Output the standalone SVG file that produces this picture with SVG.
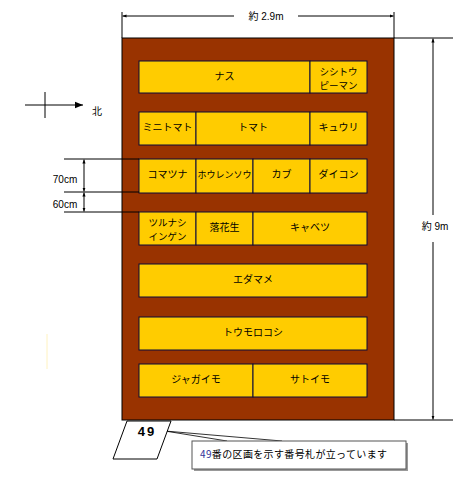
<svg xmlns="http://www.w3.org/2000/svg" width="465" height="490" viewBox="0 0 465 490">
<defs>
<style>
.bed{fill:#FFCC00;stroke:#0a0a3a;stroke-width:1}
.bt{font-family:"Noto Sans CJK JP","Noto Sans",sans-serif;font-size:10px;fill:#000;text-anchor:middle}
.bt2{font-size:9.5px}
.dim{stroke:#000;stroke-width:1;fill:none}
.lbl{font-family:"Liberation Sans","Noto Sans CJK JP",sans-serif;font-size:10px;fill:#000}
</style>
<marker id="ah" viewBox="0 0 10 10" refX="10" refY="5" markerWidth="4" markerHeight="4" orient="auto-start-reverse"><path d="M0,1 L10,5 L0,9 z" fill="#000"/></marker>
<marker id="ab" viewBox="0 0 10 10" refX="10" refY="5" markerWidth="8" markerHeight="8" orient="auto"><path d="M0,1 L10,5 L0,9 z" fill="#000"/></marker>
</defs>
<rect width="465" height="490" fill="#fff"/>
<line x1="47" y1="334" x2="47" y2="369" stroke="#fff2c0" stroke-width="1"/>
<g id="plot">
<rect x="122" y="38" width="272" height="382" fill="#993300" stroke="#000" stroke-width="1"/>
</g>
<g id="row1">
<rect class="bed" x="139" y="61" width="171" height="32"/><text class="bt" x="224.5" y="79.5">ナス</text>
<rect class="bed" x="310" y="61" width="57" height="32"/><text class="bt bt2" x="338.5" y="74.5">シシトウ</text><text class="bt bt2" x="338.5" y="88.5">ピーマン</text>
</g>
<g id="row2">
<rect class="bed" x="139" y="112" width="57" height="33"/><text class="bt" x="167.5" y="130.5">ミニトマト</text>
<rect class="bed" x="196" y="112" width="114" height="33"/><text class="bt" x="253" y="130.5">トマト</text>
<rect class="bed" x="310" y="112" width="57" height="33"/><text class="bt" x="338.5" y="130.5">キュウリ</text>
</g>
<g id="row3">
<rect class="bed" x="139" y="159" width="57" height="34"/><text class="bt" x="167.5" y="178">コマツナ</text>
<rect class="bed" x="196" y="159" width="57" height="34"/><text class="bt" x="224.5" y="178" style="font-size:9px">ホウレンソウ</text>
<rect class="bed" x="253" y="159" width="57" height="34"/><text class="bt" x="281.5" y="178">カブ</text>
<rect class="bed" x="310" y="159" width="57" height="34"/><text class="bt" x="338.5" y="178">ダイコン</text>
</g>
<g id="row4">
<rect class="bed" x="139" y="212" width="57" height="33"/><text class="bt bt2" x="167.5" y="225.5">ツルナシ</text><text class="bt bt2" x="167.5" y="239.5">インゲン</text>
<rect class="bed" x="196" y="212" width="57" height="33"/><text class="bt" x="224.5" y="230.5">落花生</text>
<rect class="bed" x="253" y="212" width="114" height="33"/><text class="bt" x="310" y="230.5">キャベツ</text>
</g>
<g id="row5">
<rect class="bed" x="139" y="264" width="228" height="33"/><text class="bt" x="253" y="282.5">エダマメ</text>
</g>
<g id="row6">
<rect class="bed" x="139" y="317" width="228" height="33"/><text class="bt" x="253" y="335.5">トウモロコシ</text>
</g>
<g id="row7">
<rect class="bed" x="139" y="364" width="114" height="33"/><text class="bt" x="196" y="382.5">ジャガイモ</text>
<rect class="bed" x="253" y="364" width="114" height="33"/><text class="bt" x="310" y="382.5">サトイモ</text>
</g>
<g id="compass">
<line class="dim" x1="25" y1="105" x2="83" y2="105" marker-end="url(#ab)"/>
<line class="dim" x1="45" y1="92" x2="45" y2="118"/>
<text class="lbl" x="92" y="115" style="font-family:'Noto Sans CJK JP',sans-serif">北</text>
</g>
<g id="connectors">
<line class="dim" x1="122" y1="12" x2="122" y2="38"/>
<line class="dim" x1="394" y1="12" x2="394" y2="38"/>
<line class="dim" x1="234" y1="16" x2="122.5" y2="16" marker-end="url(#ah)"/>
<line class="dim" x1="298" y1="16" x2="393.5" y2="16" marker-end="url(#ah)"/>
<line class="dim" x1="394" y1="38" x2="453" y2="38"/>
<line class="dim" x1="394" y1="420" x2="453" y2="420"/>
<line class="dim" x1="433" y1="215" x2="433" y2="38.5" marker-end="url(#ah)"/>
<line class="dim" x1="433" y1="242" x2="433" y2="419.5" marker-end="url(#ah)"/>
<line class="dim" x1="64" y1="159" x2="139" y2="159"/>
<line class="dim" x1="64" y1="192" x2="139" y2="192"/>
<line class="dim" x1="64" y1="212" x2="139" y2="212"/>
<line class="dim" x1="84" y1="159.5" x2="84" y2="191.5" marker-start="url(#ah)" marker-end="url(#ah)"/>
<line class="dim" x1="84" y1="192.5" x2="84" y2="211.5" marker-start="url(#ah)" marker-end="url(#ah)"/>
<polyline points="227,441 165,431 282,441" fill="#fff" stroke="#000" stroke-width="0.8"/>
</g>
<g id="labels">
<text class="lbl" x="266" y="20" text-anchor="middle"><tspan style="font-family:'Noto Sans CJK JP',sans-serif">約</tspan> 2.9m</text>
<text class="lbl" x="435" y="230" text-anchor="middle"><tspan style="font-family:'Noto Sans CJK JP',sans-serif">約</tspan> 9m</text>
<text class="lbl" x="65" y="183" text-anchor="middle">70cm</text>
<text class="lbl" x="65" y="208" text-anchor="middle">60cm</text>
</g>
<g id="post">
<polygon points="127,421 171,421 157,459 113,459" fill="#fff" stroke="#000" stroke-width="1"/>
<text x="147" y="436" text-anchor="middle" style="font-family:'Liberation Sans',sans-serif;font-size:13px;font-weight:bold;letter-spacing:2px">49</text>
</g>
<g id="callout">
<rect x="194" y="443" width="214" height="28" fill="#999"/>
<rect x="192" y="441" width="214" height="28" fill="#fff" stroke="#555" stroke-width="1"/>
<text x="200" y="458" style="font-family:'Noto Sans CJK JP',sans-serif;font-size:10px" textLength="187"><tspan fill="#333399">49</tspan>番の区画を示す番号札が立っています</text>
</g>
</svg>
